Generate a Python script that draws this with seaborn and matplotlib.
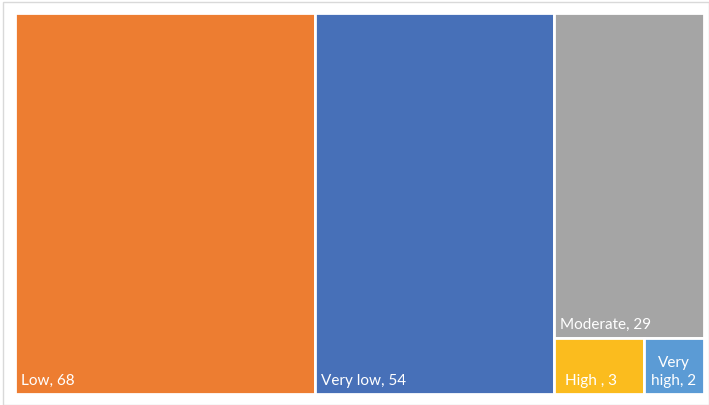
import matplotlib
matplotlib.use("Agg")
import matplotlib.pyplot as plt
import seaborn as sns
from matplotlib.patches import Rectangle

categories = ["Low", "Very low", "Moderate", "High", "Very high"]
values = [68, 54, 29, 3, 2]
labels = ["Low, 68", "Very low, 54", "Moderate, 29", "High , 3", "Very\nhigh, 2"]
colors = ["#ED7D31", "#4770B8", "#A5A5A5", "#FBBC1E", "#5B9BD5"]

sns.set_theme(style="white")
plt.rcParams["font.family"] = ["Lato", "DejaVu Sans"]

W, H = 709, 406
fig = plt.figure(figsize=(W / 100, H / 100), dpi=100)
fig.patch.set_facecolor("white")
# chart area border
fig.add_artist(Rectangle((3 / W, 0.5 / H), (W - 3.5) / W, (H - 3.5) / H,
                         transform=fig.transFigure, fill=False,
                         edgecolor="#D9D9D9", linewidth=1))

left, right, top, bottom = 15, 704, 14, 395
ax = fig.add_axes([left / W, (H - bottom) / H, (right - left) / W, (bottom - top) / H])

# treemap layout (slice-and-dice) computed from values
total = sum(values)
rects = []
x = 0.0
for v in values[:2]:
    w = v / total
    rects.append((x, 0.0, w, 1.0))
    x += w
rest = values[2:]
rest_total = sum(rest)
wcol = rest_total / total
h_mod = rest[0] / rest_total
rects.append((x, 1.0 - h_mod, wcol, h_mod))
small_total = sum(rest[1:])
xx = x
for v in rest[1:]:
    w = wcol * v / small_total
    rects.append((xx, 0.0, w, 1.0 - h_mod))
    xx += w

for (rx, ry, rw, rh), c in zip(rects, colors):
    ax.bar(rx, rh, width=rw, bottom=ry, align="edge", color=c,
           edgecolor="white", linewidth=2)

fs = 11
for i, ((rx, ry, rw, rh), lab) in enumerate(zip(rects, labels)):
    if i == 4:
        ax.annotate(lab, xy=(rx + rw / 2, ry), xytext=(0, 10), textcoords="offset pixels",
                    ha="center", va="baseline", color="white", fontsize=fs,
                    linespacing=1.4)
    else:
        dx = 11 if i == 3 else 6
        ax.annotate(lab, xy=(rx, ry), xytext=(dx, 10), textcoords="offset pixels",
                    ha="left", va="baseline", color="white", fontsize=fs)

ax.set_xlim(0, 1)
ax.set_ylim(0, 1)
ax.set_axis_off()

fig.savefig("out.png", dpi=100, facecolor="white")
